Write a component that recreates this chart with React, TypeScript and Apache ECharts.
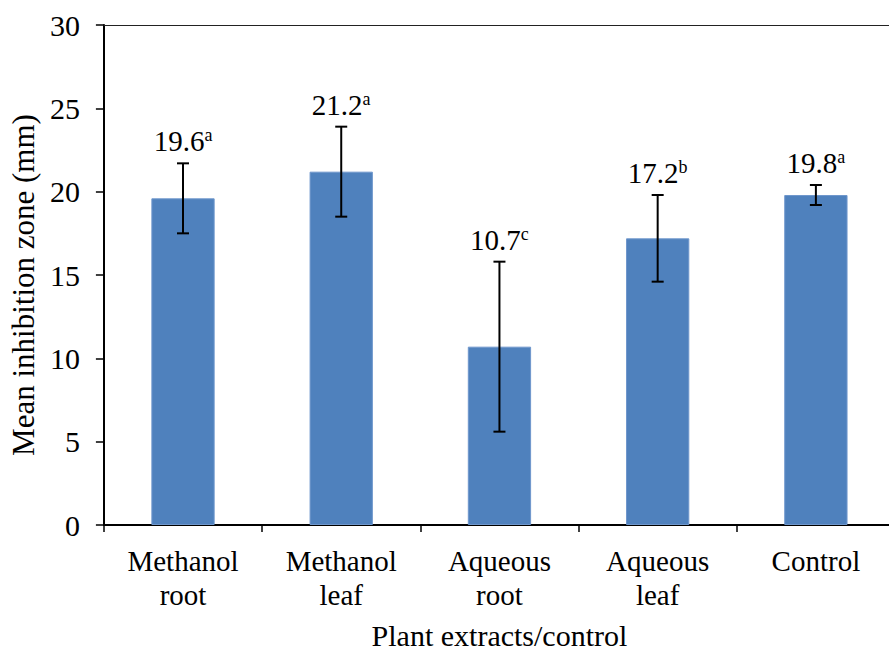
import React, { useEffect, useRef } from 'react';
import * as echarts from 'echarts';

const categories = ['Methanol\nroot', 'Methanol\nleaf', 'Aqueous\nroot', 'Aqueous\nleaf', 'Control'];
const means = [19.6, 21.2, 10.7, 17.2, 19.8];
const errors = [2.1, 2.7, 5.1, 2.6, 0.6];
const letters = ['a', 'a', 'c', 'b', 'a'];
const yMin = 0;
const yMax = 30;
const yStep = 5;
const xTitle = 'Plant extracts/control';
const yTitle = 'Mean inhibition zone (mm)';

const FONT = 'Liberation Serif';

export default function App() {
  const ref = useRef<HTMLDivElement>(null);
  useEffect(() => {
    if (!ref.current) return;
    const chart = echarts.init(ref.current, undefined, { renderer: 'svg' });
    const errData = means.map((m, i) => [i, m - errors[i], m + errors[i]]);
    chart.setOption({
      animation: false,
      textStyle: { fontFamily: FONT },
      grid: { left: 103, right: 5, top: 25, bottom: 125 },
      xAxis: [
        {
          type: 'category',
          data: categories,
          position: 'bottom',
          axisLine: { lineStyle: { color: '#000', width: 2 } },
          axisTick: { show: true, length: 7, lineStyle: { color: '#000', width: 1.5 } },
          axisLabel: { color: '#000', fontSize: 29, fontFamily: FONT, lineHeight: 34, margin: 19, interval: 0 },
          name: xTitle,
          nameLocation: 'middle',
          nameGap: 95,
          nameTextStyle: { color: '#000', fontSize: 30, fontFamily: FONT },
        },
        {
          type: 'category',
          data: categories,
          position: 'top',
          axisLine: { show: true, lineStyle: { color: '#222', width: 1 } },
          axisTick: { show: false },
          axisLabel: { show: false },
        },
      ],
      yAxis: {
        type: 'value',
        min: yMin,
        max: yMax,
        interval: yStep,
        axisLine: { show: true, lineStyle: { color: '#000', width: 2 } },
        axisTick: { show: true, length: 8, lineStyle: { color: '#000', width: 1.5 } },
        splitLine: { show: false },
        axisLabel: { color: '#000', fontSize: 30, fontFamily: FONT, margin: 24 },
        name: yTitle,
        nameLocation: 'middle',
        nameGap: 58,
        nameTextStyle: { color: '#000', fontSize: 31, fontFamily: FONT, padding: [0, 20, 0, 0] },
      },
      series: [
        {
          type: 'bar',
          data: means,
          barWidth: '40%',
          itemStyle: { color: '#4F81BD', borderColor: '#6F97CC', borderWidth: 1 },
        },
        {
          type: 'custom',
          data: errData,
          z: 10,
          renderItem: (params: any, api: any) => {
            const i = api.value(0);
            const lo = api.coord([i, api.value(1)]);
            const hi = api.coord([i, api.value(2)]);
            const hw = 6;
            const idx = params.dataIndex;
            const style = { stroke: '#000', lineWidth: 2 };
            return {
              type: 'group',
              children: [
                { type: 'line', shape: { x1: hi[0], y1: hi[1], x2: lo[0], y2: lo[1] }, style },
                { type: 'line', shape: { x1: hi[0] - hw, y1: hi[1], x2: hi[0] + hw, y2: hi[1] }, style },
                { type: 'line', shape: { x1: lo[0] - hw, y1: lo[1], x2: lo[0] + hw, y2: lo[1] }, style },
                {
                  type: 'text',
                  x: hi[0],
                  y: hi[1] - 7,
                  style: {
                    text: `{v|${means[idx].toFixed(1)}}{s|${letters[idx]}}`,
                    align: 'center',
                    verticalAlign: 'bottom',
                    fill: '#000',
                    fontFamily: FONT,
                    rich: {
                      v: { fontSize: 29, lineHeight: 30, fontFamily: FONT, fill: '#000' },
                      s: { fontSize: 18, lineHeight: 18, verticalAlign: 'top', fontFamily: FONT, fill: '#000' },
                    },
                  },
                },
              ],
            };
          },
        },
      ],
    });
    return () => chart.dispose();
  }, []);
  return (
    <div
      ref={ref}
      style={{ position: 'fixed', left: 0, top: 0, width: 900, height: 655, background: '#fff' }}
    />
  );
}
